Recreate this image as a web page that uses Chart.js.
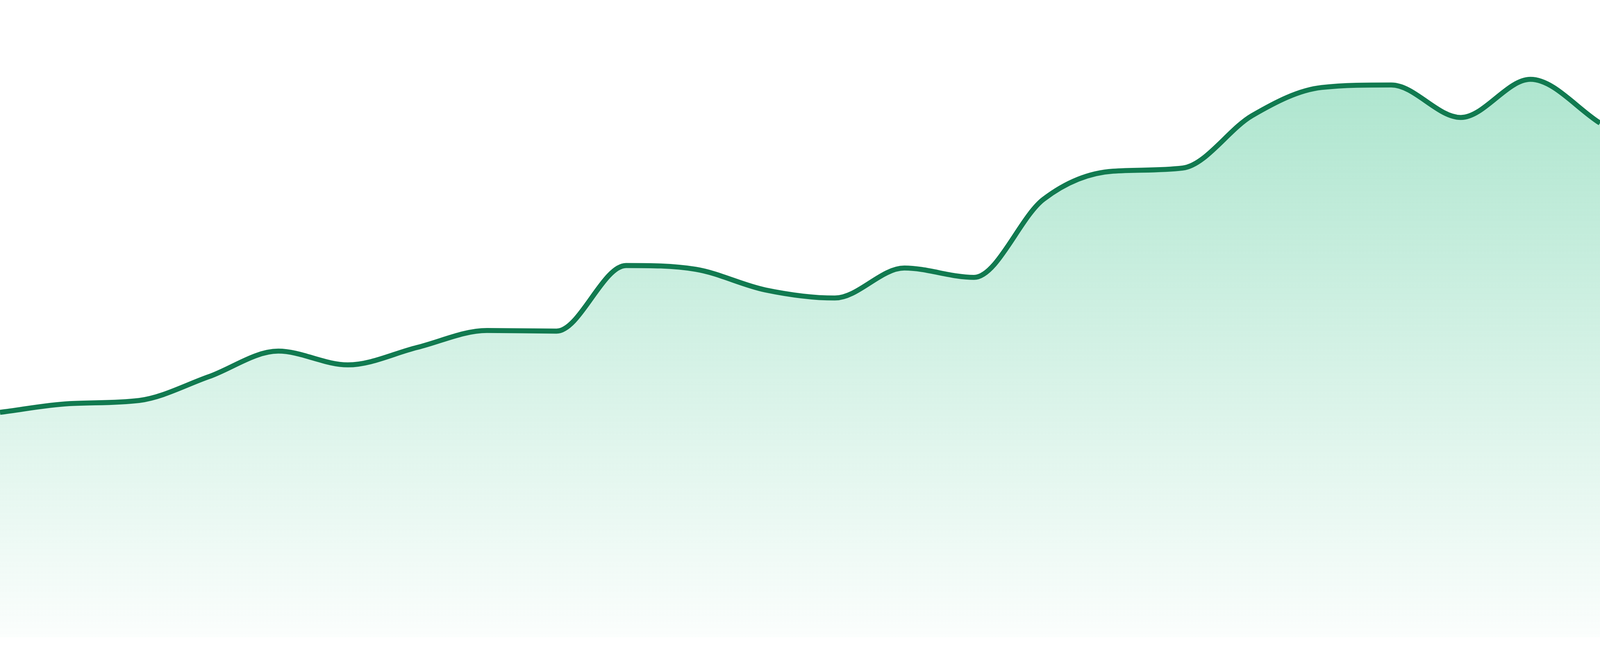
<!DOCTYPE html>
<html>
<head>
<meta charset="utf-8">
<script src="https://cdn.jsdelivr.net/npm/chart.js@4"></script>
<style>
  html, body { margin: 0; padding: 0; background: #ffffff; overflow: hidden; }
  #wrap { width: 100vw; height: 100vh; position: relative; }
</style>
</head>
<body>
<div id="wrap"><canvas id="chart"></canvas></div>
<script>
// weeks on the x axis (axis is hidden in the picture)
let weeks = [
  'W1', 'W2', 'W3', 'W4', 'W5', 'W6', 'W7', 'W8',
  'W9', 'W10', 'W11', 'W12', 'W13', 'W14', 'W15', 'W16',
  'W17', 'W18', 'W19', 'W20', 'W21', 'W22', 'W23', 'W24'
];

// values
let values = [
  36.0, 37.4, 37.9, 41.7, 45.8, 43.6, 46.4, 49.1,
  49.0, 59.5, 58.9, 55.6, 54.3, 59.1, 57.6, 70.1,
  74.6, 75.1, 83.5, 88.0, 88.4, 83.2, 89.3, 82.3
];

let yMin = 0;
let yMax = 102;

let lineColor = '#117a50';

// sizes were measured on a 4800x1680 picture, scale them to the window
let W = window.innerWidth;
let H = window.innerHeight;
let lineWidth = 15 * W / 4800;
let padBottom = 48 * H / 1680;

function areaGradient(context) {
  let chart = context.chart;
  let area = chart.chartArea;
  if (!area) return 'rgba(42,188,128,0.2)';
  let g = chart.ctx.createLinearGradient(0, area.top, 0, area.bottom);
  g.addColorStop(0, 'rgba(42,188,128,0.43)');
  g.addColorStop(1, 'rgba(42,188,128,0.02)');
  return g;
}

let chart = new Chart(document.getElementById('chart').getContext('2d'), {
  type: 'line',
  data: {
    labels: weeks,
    datasets: [{
      data: values,
      borderColor: lineColor,
      borderWidth: lineWidth,
      backgroundColor: areaGradient,
      fill: 'origin',
      pointRadius: 0,
      pointHoverRadius: 0,
      cubicInterpolationMode: 'monotone'
    }]
  },
  options: {
    responsive: true,
    maintainAspectRatio: false,
    animation: false,
    layout: { padding: { top: 0, bottom: padBottom, left: 0, right: 0 } },
    scales: {
      x: { display: false, offset: false },
      y: { display: false, min: yMin, max: yMax }
    },
    plugins: {
      legend: { display: false },
      tooltip: { enabled: false }
    }
  }
});
</script>
</body>
</html>
